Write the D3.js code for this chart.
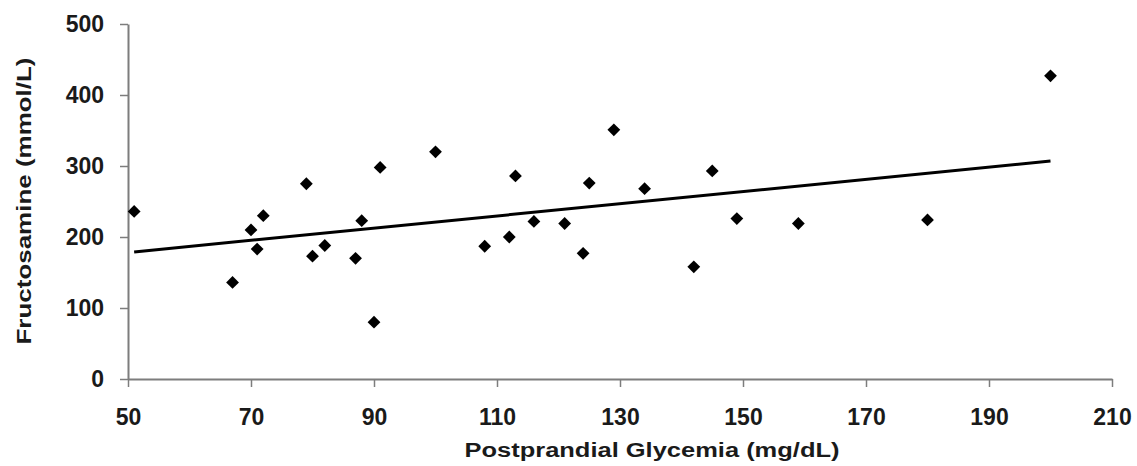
<!DOCTYPE html>
<html>
<head>
<meta charset="utf-8">
<script src="https://cdn.jsdelivr.net/npm/d3@7/dist/d3.min.js"></script>
<style>
  body { margin: 0; background: #fff; }
  text { font-family: "Liberation Sans", Arial, sans-serif; font-weight: bold; fill: #1a1a1a; }
</style>
</head>
<body>
<div id="chart"></div>
<script>
// postprandial glycemia (mg/dL) vs fructosamine (mmol/L)
const glycemia = [51, 67, 70, 71, 72, 79, 80, 82, 87, 88, 90, 91, 100, 108, 112, 113, 116, 121, 124, 125, 129, 134, 142, 145, 149, 159, 180, 200];
const fructosamine = [236, 136, 210, 183, 230, 275, 173, 188, 170, 223, 80, 298, 320, 187, 200, 286, 222, 219, 177, 276, 351, 268, 158, 293, 226, 219, 224, 427];

// trend line end points
const trendX = [51, 200];
const trendY = [179, 307];

const xTicks = [50, 70, 90, 110, 130, 150, 170, 190, 210];
const yTicks = [0, 100, 200, 300, 400, 500];

const width = 1137, height = 466;
const margin = {top: 24, right: 25, bottom: 87, left: 128};

const svg = d3.select("#chart").append("svg")
  .attr("width", width)
  .attr("height", height);

const x = d3.scaleLinear().domain([50, 210]).range([margin.left, width - margin.right]);
const y = d3.scaleLinear().domain([0, 500]).range([height - margin.bottom, margin.top]);

// axes
const xAxis = svg.append("g")
  .attr("transform", "translate(0," + y(0) + ")")
  .call(d3.axisBottom(x).tickValues(xTicks).tickSize(8).tickPadding(22).tickSizeOuter(0));
const yAxis = svg.append("g")
  .attr("transform", "translate(" + x(50) + ",0)")
  .call(d3.axisLeft(y).tickValues(yTicks).tickSize(8).tickPadding(16).tickSizeOuter(0));

[xAxis, yAxis].forEach(g => {
  g.select(".domain").attr("stroke", "#7d7d7d").attr("stroke-width", 2);
  g.selectAll(".tick line").attr("stroke", "#7d7d7d").attr("stroke-width", 1.5);
  g.selectAll(".tick text").style("font-size", "23px").attr("fill", "#1a1a1a");
});

// trend line
svg.append("line")
  .attr("x1", x(trendX[0])).attr("y1", y(trendY[0]))
  .attr("x2", x(trendX[1])).attr("y2", y(trendY[1]))
  .attr("stroke", "#000")
  .attr("stroke-width", 3);

// points
const pts = glycemia.map((g, i) => [g, fructosamine[i]]);
svg.append("g")
  .selectAll("path")
  .data(pts)
  .enter()
  .append("path")
    .attr("d", d3.symbol().type(d3.symbolSquare).size(82))
    .attr("transform", d => "translate(" + x(d[0]) + "," + y(d[1]) + ") rotate(45)")
    .attr("fill", "#000");

// axis titles (source image is a bit stretched horizontally)
svg.append("text")
  .attr("x", 652)
  .attr("y", 457)
  .attr("text-anchor", "middle")
  .attr("textLength", 375)
  .attr("lengthAdjust", "spacingAndGlyphs")
  .style("font-size", "20px")
  .text("Postprandial Glycemia (mg/dL)");

svg.append("text")
  .attr("transform", "translate(31,201) rotate(-90)")
  .attr("text-anchor", "middle")
  .attr("textLength", 287)
  .attr("lengthAdjust", "spacingAndGlyphs")
  .style("font-size", "20px")
  .text("Fructosamine (mmol/L)");
</script>
</body>
</html>
